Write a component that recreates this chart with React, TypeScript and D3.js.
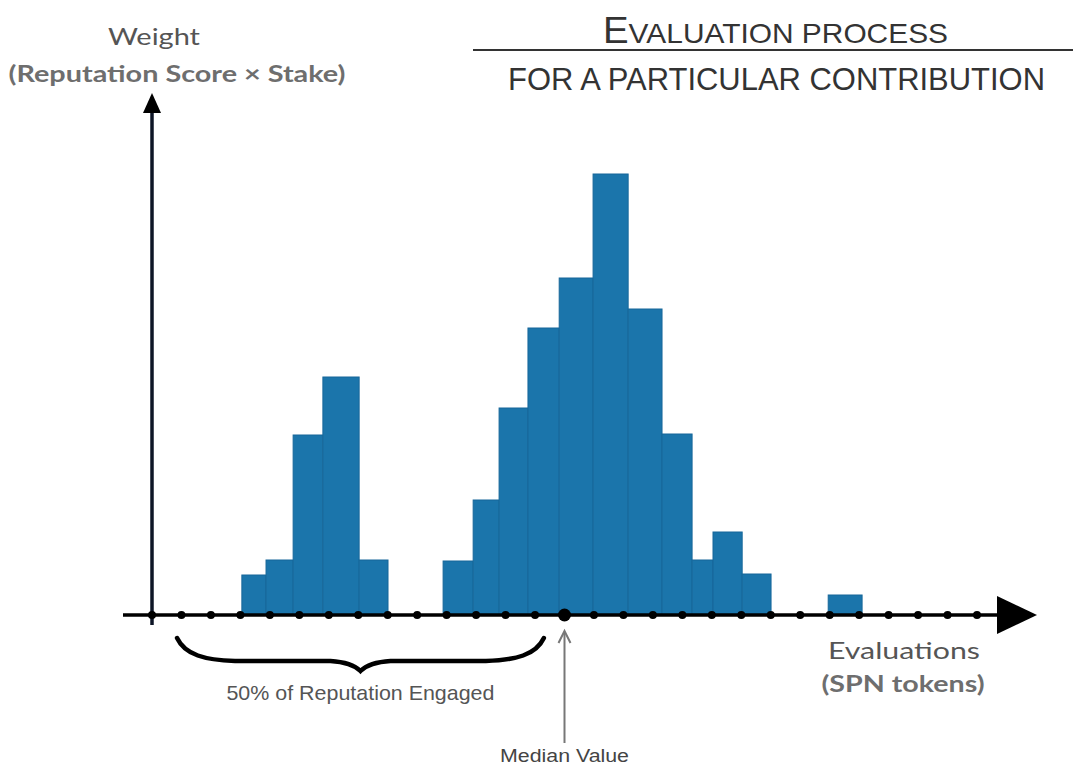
import * as d3 from "d3";
import { useEffect, useRef } from "react";

// histogram bins: edges in evaluation units (tick index), heights in weight units
const binStarts = [3.05, 3.87, 4.79, 5.8, 7.03, 9.88, 10.9, 11.78, 12.76, 13.82, 14.97, 16.16, 17.31, 18.33, 19.04, 20.03, 22.95];
const binEnds = [3.87, 4.79, 5.8, 7.03, 8.01, 10.9, 11.78, 12.76, 13.82, 14.97, 16.16, 17.31, 18.33, 19.04, 20.03, 21.01, 24.1];
const weights = [4.0, 5.5, 18.0, 23.8, 5.5, 5.4, 11.5, 20.7, 28.7, 33.7, 44.1, 30.6, 18.1, 5.5, 8.3, 4.1, 2.0];
const tickIndex = d3.range(0, 29);
const medianTick = 14;

const W = 1073;
const H = 766;

const App = () => {
  const svgRef = useRef<SVGSVGElement | null>(null);

  useEffect(() => {
    const svg = d3.select(svgRef.current);
    svg.selectAll("*").remove();

    const x = d3.scaleLinear().domain([0, 28]).range([152, 977]);
    const y = d3.scaleLinear().domain([0, 52]).range([615, 95]);
    const base = y(0);

    const bins = weights.map((w, i) => ({ x0: binStarts[i], x1: binEnds[i], w }));

    // bars
    svg.append("g")
      .selectAll("rect")
      .data(bins)
      .enter()
      .append("rect")
      .attr("x", d => x(d.x0))
      .attr("width", d => x(d.x1) - x(d.x0))
      .attr("y", d => y(d.w))
      .attr("height", d => base - y(d.w))
      .attr("fill", "#1b75ab")
      .attr("stroke", "#17679a")
      .attr("stroke-width", 1);

    // y axis
    const xAxisX = x(0);
    svg.append("line")
      .attr("x1", xAxisX).attr("x2", xAxisX)
      .attr("y1", base + 10).attr("y2", 110)
      .attr("stroke", "#0d1526").attr("stroke-width", 3.5);
    svg.append("path")
      .attr("d", `M${xAxisX - 9},113 L${xAxisX},93 L${xAxisX + 9},113 Z`)
      .attr("fill", "#000");

    // x axis
    svg.append("line")
      .attr("x1", 123).attr("x2", 1000)
      .attr("y1", base).attr("y2", base)
      .attr("stroke", "#000").attr("stroke-width", 3.5);
    svg.append("path")
      .attr("d", `M997,${base - 19} L1037,${base} L997,${base + 19} Z`)
      .attr("fill", "#000");

    // tick dots
    svg.append("g")
      .selectAll("circle")
      .data(tickIndex)
      .enter()
      .append("circle")
      .attr("cx", d => x(d))
      .attr("cy", base)
      .attr("r", d => (d === medianTick ? 6.5 : 4))
      .attr("fill", "#000");

    // brace
    const bL = x(0.85);
    const bR = x(13.3);
    const bM = (bL + bR) / 2;
    svg.append("path")
      .attr("d",
        `M${bL},638 C${bL + 8},655 ${bL + 28},660 ${bL + 58},661 L${bM - 30},661 ` +
        `C${bM - 12},662 ${bM - 5},666 ${bM},671 C${bM + 5},666 ${bM + 12},662 ${bM + 30},661 ` +
        `L${bR - 58},661 C${bR - 28},660 ${bR - 8},655 ${bR},638`)
      .attr("fill", "none")
      .attr("stroke", "#000")
      .attr("stroke-width", 4.5)
      .attr("stroke-linecap", "round");

    svg.append("text")
      .attr("x", bM).attr("y", 700)
      .attr("text-anchor", "middle")
      .attr("font-family", "Liberation Sans, Arial, sans-serif")
      .attr("font-size", 21)
      .attr("fill", "#555")
      .attr("textLength", 268)
      .attr("lengthAdjust", "spacingAndGlyphs")
      .text("50% of Reputation Engaged");

    // median arrow
    const mx = x(medianTick);
    svg.append("line")
      .attr("x1", mx).attr("x2", mx)
      .attr("y1", 632).attr("y2", 743)
      .attr("stroke", "#777").attr("stroke-width", 2);
    svg.append("path")
      .attr("d", `M${mx - 6},643 L${mx},631 L${mx + 6},643`)
      .attr("fill", "none")
      .attr("stroke", "#777").attr("stroke-width", 2);
    svg.append("text")
      .attr("x", mx).attr("y", 762)
      .attr("text-anchor", "middle")
      .attr("font-family", "Liberation Sans, Arial, sans-serif")
      .attr("font-size", 17.5)
      .attr("fill", "#444")
      .attr("textLength", 129)
      .attr("lengthAdjust", "spacingAndGlyphs")
      .text("Median Value");

    // axis labels
    const label = (tx: number, ty: number, s: string, size: number, weight: string, len: number, fill: string) =>
      svg.append("text")
        .attr("x", tx).attr("y", ty)
        .attr("text-anchor", "middle")
        .attr("font-family", "Lato, sans-serif")
        .attr("font-size", size)
        .attr("font-weight", weight)
        .attr("fill", fill)
        .attr("textLength", len)
        .attr("lengthAdjust", "spacingAndGlyphs")
        .text(s);

    label(154, 45, "Weight", 24, "normal", 92, "#555");
    label(177, 82, "(Reputation Score × Stake)", 22, "bold", 337, "#6e6e6e");
    label(904, 659, "Evaluations", 24, "normal", 152, "#555");
    label(903, 692, "(SPN tokens)", 22, "bold", 163, "#6e6e6e");

    // title
    const t = svg.append("text")
      .attr("x", 603).attr("y", 43)
      .attr("font-family", "Liberation Sans, Arial, sans-serif")
      .attr("fill", "#333")
      .attr("textLength", 345)
      .attr("lengthAdjust", "spacingAndGlyphs");
    t.append("tspan").attr("font-size", 36).text("E");
    t.append("tspan").attr("font-size", 28).text("VALUATION PROCESS");

    svg.append("line")
      .attr("x1", 473).attr("x2", W)
      .attr("y1", 50).attr("y2", 50)
      .attr("stroke", "#333").attr("stroke-width", 2);

    svg.append("text")
      .attr("x", 508).attr("y", 90)
      .attr("font-family", "Liberation Sans, Arial, sans-serif")
      .attr("font-size", 32)
      .attr("fill", "#333")
      .attr("textLength", 537)
      .attr("lengthAdjust", "spacingAndGlyphs")
      .text("FOR A PARTICULAR CONTRIBUTION");
  }, []);

  return (
    <svg
      ref={svgRef}
      width={W}
      height={H}
      style={{ position: "absolute", left: 0, top: 0, background: "#fff" }}
    ></svg>
  );
};

export default App;
